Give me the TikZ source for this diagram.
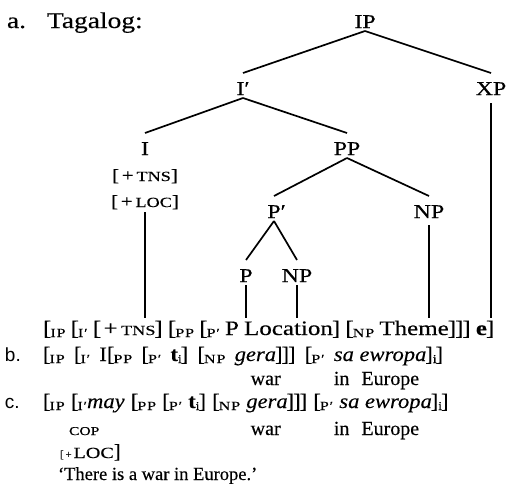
\documentclass[tikz,border=0pt]{standalone}
\usepackage{fontspec}
\usetikzlibrary{calc}
\setmainfont{Liberation Serif}[FakeBold=0.3]
% wide setting for the tree labels and the bracketed string
\newfontfamily\widefont{Liberation Serif}[FakeStretch=1.22, FakeBold=0.3]
% setting for the example lines (b) and (c)
\newfontfamily\exfont{Liberation Serif}[FakeStretch=1.1, FakeBold=0.3]
% small capitals (faked with a wide, small uppercase)
\newfontfamily\scfont{Liberation Serif}[FakeStretch=1.3, FakeBold=0.3]
\newfontfamily\subfont{Liberation Serif}[FakeStretch=1.3, LetterSpace=6, FakeBold=0.3]
\newfontfamily\labelsans{Liberation Sans}
\newcommand\lsub[1]{\raisebox{-2pt}{\subfont\fontsize{12.5}{13}\selectfont #1}}
\newcommand\smc[1]{{\scfont\fontsize{14}{14}\selectfont #1}}
\newcommand\gap{\kern.25em}
\newcommand\bgap{\kern.45em}
\newcommand\cgap{\kern.3em}
\newcommand\ob{[\kern-1pt}
\newcommand\cb{\kern-1pt]}
\newcommand\isub{\raisebox{-2pt}{\fontsize{12}{12}\selectfont i}}

\begin{document}
\begin{tikzpicture}[x=1pt,y=-1pt,
  every node/.style={inner sep=0pt, outer sep=0pt},
  treefont/.style={font=\widefont\fontsize{19.5}{22}\selectfont},
  cat/.style={treefont, anchor=base, text height=22pt, text depth=3pt},
  seg/.style={font=\widefont\fontsize{20.5}{22}\selectfont, anchor=base west, text height=17pt, text depth=4pt},
  exseg/.style={font=\exfont\fontsize{20.5}{22}\selectfont, anchor=base west},
  gloss/.style={font=\fontsize{20}{22}\selectfont, anchor=base west},
  exlabel/.style={font=\labelsans\fontsize{19}{20}\selectfont, anchor=base west},
  feat/.style={anchor=base, font=\widefont\fontsize{17}{18}\selectfont},
  branch/.style={line width=1.7pt},
]
\useasboundingbox (0,0) rectangle (508,501);

% heading
\node[anchor=base west, font=\widefont\fontsize{22.5}{24}\selectfont] (exa) at (7,28) {a.};
\node[anchor=base west, font=\widefont\fontsize{22.5}{24}\selectfont] (lang) at (47,28) {Tagalog:};

% tree
\node[cat] (IP) at (365,28) {IP};
\node[cat] (Ibar) at (243,95) {I′};
\node[cat, text depth=8pt] (XP) at (491,95) {XP};
\node[cat] (I) at (145,155) {I};
\node[cat] (PP) at (347,155) {PP};
\node[feat] (ftns) at (145,181) {[\,+\,\smc{TNS}]};
\node[feat, text depth=5pt] (floc) at (145,207) {[\,+\,\smc{LOC}]};
\node[cat] (Pbar) at (274,218) {P\rlap{′}};
\node[cat, text depth=7pt] (NPb) at (429,218) {NP};
\node[cat] (P) at (246,282) {P};
\node[cat] (NPa) at (297,282) {NP};

\draw[branch] (IP.south) -- (Ibar.north);
\draw[branch] (IP.south) -- (XP.north);
\draw[branch] (Ibar.south) -- (I.north);
\draw[branch] (Ibar.south) -- (PP.north);
\draw[branch] (PP.south) -- (Pbar.north);
\draw[branch] (PP.south) -- (NPb.north);
\draw[branch] (Pbar.south) -- (P.north);
\draw[branch] (Pbar.south) -- (NPa.north);

% bracketed string under the tree
\node[seg] (a0) at (43,335) {\ob\lsub{IP}\gap\ob\lsub{I′}\gap\ob\,+\,};
\node[seg] (tns) at (a0.base east) {\smc{TNS}};
\node[seg] (a1) at (tns.base east) {\cb\gap\ob\lsub{PP}\gap\ob\lsub{P′}\gap};
\node[seg] (pw) at (a1.base east) {P};
\node[seg] (loc) at (pw.base east) {\gap Location};
\node[seg] (a3) at (loc.base east) {\cb\gap\ob\lsub{NP}\gap};
\node[seg] (theme) at (a3.base east) {Theme};
\node[seg] (a4) at (theme.base east) {\cb\cb\cb\gap};
\node[seg] (ee) at (a4.base east) {\textbf{e}};
\node[seg] (a5) at (ee.base east) {\cb};

\draw[branch] (floc.south) -- (floc.south |- tns.north);
\draw[branch] (P.south) -- (P.south |- pw.north);
\draw[branch] (NPa.south) -- (NPa.south |- loc.north);
\draw[branch] (NPb.south) -- (NPb.south |- theme.north);
\draw[branch] (XP.south) -- (XP.south |- ee.north);

% (b)
\node[exlabel] (exb) at (5,361) {b.};
\node[exseg] (bpre) at (43,361) {\ob\lsub{IP}\bgap\ob\lsub{I′}\bgap I\ob\lsub{PP}\bgap\ob\lsub{P′}\bgap\textbf{t}\isub\cb\bgap\ob\lsub{NP}\bgap};
\node[exseg] (bgera) at (bpre.base east) {\textit{gera}};
\node[exseg] (bmid) at (bgera.base east) {\cb\cb\cb\bgap\ob\lsub{P′}\bgap};
\node[exseg] (bsa) at (bmid.base east) {\textit{sa ewropa}};
\node[exseg] (bpost) at (bsa.base east) {\cb\isub\cb};
\node[gloss] (bwar) at ($(bgera.base west)+(16,24)$) {war};
\node[gloss] (beur) at ($(bsa.base west)+(0,24)$) {in\kern.6em Europe};

% (c)
\node[exlabel] (exc) at (5,408) {c.};
\node[exseg] (cpre) at (43,408) {\ob\lsub{IP}\cgap\ob\lsub{I′}\textit{may}\cgap\ob\lsub{PP}\cgap\ob\lsub{P′}\cgap\textbf{t}\isub\cb\cgap\ob\lsub{NP}\cgap};
\node[exseg] (cgera) at (cpre.base east) {\textit{gera}};
\node[exseg] (cmid) at (cgera.base east) {\cb\cb\cb\cgap\ob\lsub{P′}\cgap};
\node[exseg] (csa) at (cmid.base east) {\textit{sa ewropa}};
\node[exseg] (cpost) at (csa.base east) {\cb\isub\cb};
\node[anchor=base west, font=\scfont\fontsize{12}{13}\selectfont] (cop) at (69,435) {COP};
\node[gloss] (cwar) at (bwar.base west |- 0,435) {war};
\node[gloss] (ceur) at (beur.base west |- 0,435) {in\kern.6em Europe};
\node[anchor=base west] (cloc) at (60,458) {{\fontsize{11}{12}\selectfont[\,+\,}{\scfont\fontsize{15.5}{17}\selectfont LOC}{\fontsize{20}{22}\selectfont]}};
\node[anchor=base west, font=\fontsize{18.5}{20}\selectfont] (trans) at (58,480) {‘There is a war in Europe.’};
\end{tikzpicture}
\end{document}
